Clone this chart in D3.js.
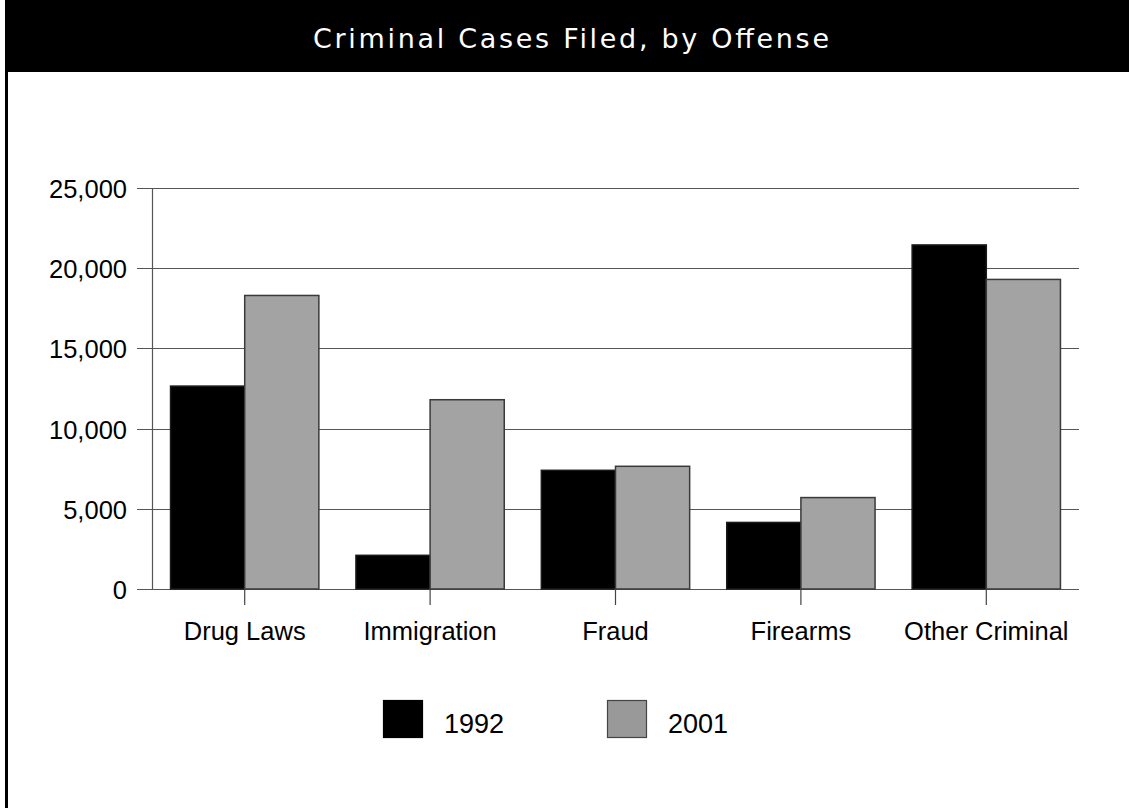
<!DOCTYPE html>
<html>
<head>
<meta charset="utf-8">
<script src="https://cdn.jsdelivr.net/npm/d3@7"></script>
<style>
  html, body { margin: 0; padding: 0; background: #fff; }
  svg { display: block; }
</style>
</head>
<body>
<svg id="chart" width="1129" height="808"></svg>
<script>
// Criminal cases filed, by offense type
const categories = ["Drug Laws", "Immigration", "Fraud", "Firearms", "Other Criminal"];
const seriesNames = ["1992", "2001"];
const values1992 = [12650, 2100, 7400, 4150, 21450];
const values2001 = [18300, 11800, 7650, 5700, 19300];
const yTicks = [0, 5000, 10000, 15000, 20000, 25000];
const titleText = "Criminal Cases Filed, by Offense";

const W = 1129, H = 808;
const svg = d3.select("#chart");

const fills = { "1992": "#000000", "2001": "#a3a3a3" };
const strokes = { "1992": "#1a1a1a", "2001": "#3a3a3a" };
const labelFont = "Liberation Sans, Arial, sans-serif";

// Header band and frame
svg.append("rect").attr("x", 5).attr("y", 0).attr("width", W - 5).attr("height", 72).attr("fill", "#000");
svg.append("line").attr("x1", 6.5).attr("x2", 6.5).attr("y1", 72).attr("y2", H)
  .attr("stroke", "#000").attr("stroke-width", 3);

svg.append("text")
  .attr("x", 571).attr("y", 48)
  .attr("text-anchor", "middle")
  .attr("fill", "#fff")
  .attr("font-family", "DejaVu Sans, Verdana, sans-serif")
  .attr("font-size", 27)
  .attr("textLength", 516)
  .attr("lengthAdjust", "spacing")
  .text(titleText);

// Plot area
const plot = { left: 152, right: 1079, top: 188, bottom: 589 };

const x0 = d3.scaleBand().domain(categories).range([plot.left, plot.right]).paddingInner(0.2).paddingOuter(0.1);
const x1 = d3.scaleBand().domain(seriesNames).range([0, x0.bandwidth()]);
const y = d3.scaleLinear().domain([0, 25000]).range([plot.bottom, plot.top]);

const g = svg.append("g");

// Horizontal gridlines with left tick marks
g.append("g").selectAll("line").data(yTicks).join("line")
  .attr("x1", plot.left - 15).attr("x2", plot.right)
  .attr("y1", d => Math.round(y(d)) + 0.5).attr("y2", d => Math.round(y(d)) + 0.5)
  .attr("stroke", "#555").attr("stroke-width", 1.2);

// Y axis line
g.append("line").attr("x1", plot.left + 0.5).attr("x2", plot.left + 0.5)
  .attr("y1", plot.top).attr("y2", plot.bottom)
  .attr("stroke", "#555").attr("stroke-width", 1.2);

// Y tick labels
const fmt = d3.format(",");
g.append("g").selectAll("text").data(yTicks).join("text")
  .attr("x", plot.left - 25).attr("y", d => y(d) + 10)
  .attr("text-anchor", "end")
  .attr("font-family", labelFont)
  .attr("font-size", 25.5)
  .attr("fill", "#000")
  .text(d => fmt(d));

// Bars
const rows = categories.map((c, i) => ({ cat: c, vals: [
  { s: "1992", v: values1992[i] },
  { s: "2001", v: values2001[i] }
]}));

const groups = g.append("g").selectAll("g").data(rows).join("g")
  .attr("transform", d => `translate(${x0(d.cat)},0)`);

groups.selectAll("rect").data(d => d.vals).join("rect")
  .attr("x", d => x1(d.s))
  .attr("y", d => y(d.v))
  .attr("width", x1.bandwidth())
  .attr("height", d => y(0) - y(d.v))
  .attr("fill", d => fills[d.s])
  .attr("stroke", d => strokes[d.s])
  .attr("stroke-width", 1.5);

// Category ticks below the axis
g.append("g").selectAll("line").data(categories).join("line")
  .attr("x1", d => x0(d) + x0.bandwidth() / 2).attr("x2", d => x0(d) + x0.bandwidth() / 2)
  .attr("y1", plot.bottom).attr("y2", plot.bottom + 16)
  .attr("stroke", "#444").attr("stroke-width", 1.2);

// Category labels
g.append("g").selectAll("text").data(categories).join("text")
  .attr("x", d => x0(d) + x0.bandwidth() / 2)
  .attr("y", 640)
  .attr("text-anchor", "middle")
  .attr("font-family", labelFont)
  .attr("font-size", 25.5)
  .attr("fill", "#000")
  .text(d => d);

// Legend
const legendX = d3.scaleOrdinal().domain(seriesNames).range([383, 607]);
const legend = svg.append("g").selectAll("g").data(seriesNames).join("g")
  .attr("transform", d => `translate(${legendX(d)},700)`);
legend.append("rect")
  .attr("x", 0.5).attr("y", 0.5).attr("width", 39).attr("height", 37)
  .attr("fill", d => d === "1992" ? "#000" : "#999")
  .attr("stroke", d => d === "1992" ? "#000" : "#444")
  .attr("stroke-width", 1.2);
legend.append("text")
  .attr("x", 61).attr("y", 33)
  .attr("font-family", labelFont)
  .attr("font-size", 27)
  .attr("fill", "#000")
  .text(d => d);
</script>
</body>
</html>
